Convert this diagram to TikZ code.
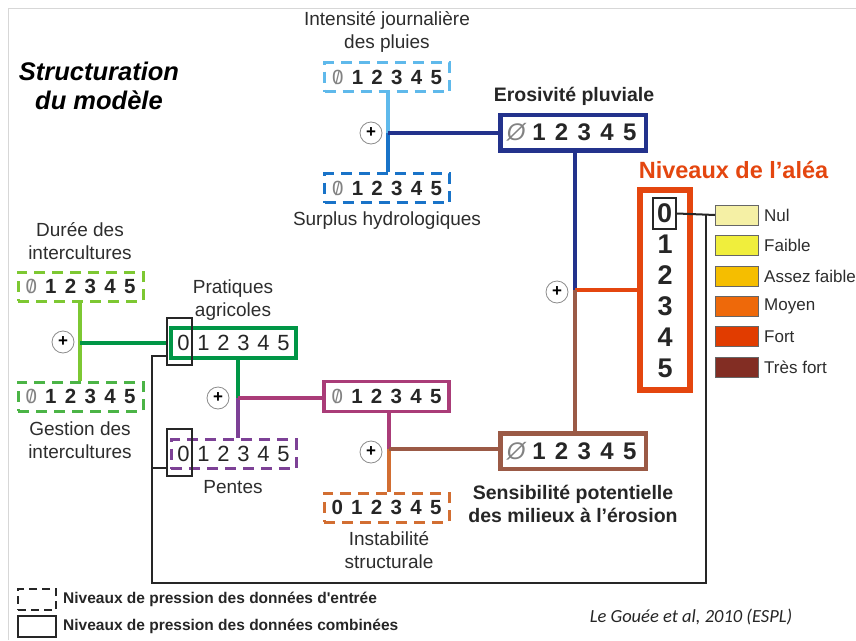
\documentclass[tikz,border=0pt]{standalone}
\usepackage{fontspec}
\setmainfont{Liberation Sans}
\newfontfamily\calib{Carlito}
\usepackage{graphicx}
\definecolor{lblue}{RGB}{95,185,235}
\definecolor{mblue}{RGB}{25,115,200}
\definecolor{navy}{RGB}{35,50,140}
\definecolor{lgreen}{RGB}{125,200,50}
\definecolor{mgreen}{RGB}{75,180,70}
\definecolor{dgreen}{RGB}{0,150,70}
\definecolor{purp}{RGB}{125,65,150}
\definecolor{mag}{RGB}{170,60,120}
\definecolor{brn}{RGB}{155,90,70}
\definecolor{orng}{RGB}{210,110,50}
\definecolor{nivred}{RGB}{228,70,15}
\definecolor{txt}{RGB}{45,45,45}
\definecolor{zgray}{RGB}{130,130,130}
\definecolor{framegray}{RGB}{215,215,215}
\definecolor{circgray}{RGB}{140,140,140}
\definecolor{sNul}{RGB}{245,240,165}
\definecolor{sFai}{RGB}{240,238,60}
\definecolor{sAss}{RGB}{245,190,0}
\definecolor{sMoy}{RGB}{238,105,10}
\definecolor{sFor}{RGB}{225,60,0}
\definecolor{sTre}{RGB}{130,45,35}
\newcommand\gz{{\mdseries\textcolor{zgray}{\ooalign{0\cr\hidewidth\scalebox{0.8}[0.9]{/}\hidewidth\cr}}}}
\newcommand\gzi{{\mdseries\itshape\textcolor{zgray}{Ø}}}
\newcommand\drow[2]{\makebox[#2]{#1}\makebox[#2]{1}\makebox[#2]{2}\makebox[#2]{3}\makebox[#2]{4}\makebox[#2]{5}}
\begin{document}
\begin{tikzpicture}[x=1pt,y=-1pt,
  lab/.style={text=txt,font=\fontsize{19}{22.5}\selectfont,align=center,inner sep=0pt},
  blab/.style={text=black!85,font=\fontsize{19.5}{23}\selectfont\bfseries,align=center,inner sep=0pt},
  inbox/.style={draw,line width=3pt,dash pattern=on 11pt off 7pt,minimum width=125pt,minimum height=29pt,inner sep=0pt,font=\fontsize{20.5}{20.5}\selectfont\bfseries,text=black!85},
  midbox/.style={draw,line width=3.5pt,minimum width=125pt,minimum height=30pt,inner sep=0pt,font=\fontsize{22}{22}\selectfont,text=black!85},
  bigbox/.style={draw,line width=4.5pt,minimum width=145.5pt,minimum height=35.5pt,inner sep=0pt,font=\fontsize{24}{24}\selectfont\bfseries,text=black!85},
  zbox/.style={draw=black!85,line width=2pt,minimum width=25pt,minimum height=47pt,inner sep=0pt},
  plus/.style={circle,draw=circgray,line width=0.8pt,fill=white,minimum size=22pt,inner sep=0pt,font=\fontsize{17}{17}\selectfont\bfseries},
  conn/.style={line width=3.5pt},
  swatch/.style={draw=black!60,line width=1pt,minimum width=43pt,minimum height=20pt,inner sep=0pt},
  swlab/.style={anchor=west,text=txt,font=\fontsize{17}{17}\selectfont,inner sep=0pt},
  nivdig/.style={font=\fontsize{27}{27}\selectfont\bfseries,text=black!85,inner sep=0pt},
  legtxt/.style={anchor=west,text=black!85,font=\fontsize{15.5}{15.5}\selectfont\bfseries,inner sep=0pt}
]
\useasboundingbox (0,0) rectangle (856,640);
\fill[white] (0,0) rectangle (856,640);
\draw[framegray,line width=1pt] (8,640) -- (8,8) -- (856,8);

% title
\node[font=\fontsize{25.5}{29}\selectfont\bfseries\itshape,align=center,inner sep=0pt] (title) at (99,86) {Structuration\\du modèle};

% labels
\node[lab] (tIntens) at (387,32) {Intensité journalière\\des pluies};
\node[lab] (tSurplus) at (387,221) {Surplus hydrologiques};
\node[blab] (tEros) at (574,96) {Erosivité pluviale};
\node[lab] (tDuree) at (80,241) {Durée des\\intercultures};
\node[lab] (tGestion) at (80,440) {Gestion des\\intercultures};
\node[lab] (tPrat) at (233,300) {Pratiques\\agricoles};
\node[lab] (tPentes) at (233,487) {Pentes};
\node[lab] (tInstab) at (389,550) {Instabilité\\structurale};
\node[blab] (tSens) at (573,504) {Sensibilité potentielle\\des milieux à l’érosion};
\node[text=nivred,font=\fontsize{23.5}{23.5}\selectfont\bfseries,inner sep=0pt] (tNiv) at (733.5,170) {Niveaux de l’aléa};

% input boxes
\node[inbox,draw=lblue] (intens) at (387,77) {\drow{\gz}{19.7pt}};
\node[inbox,draw=mblue] (surplus) at (387,188) {\drow{\gz}{19.7pt}};
\node[inbox,draw=lgreen] (duree) at (80.5,286.5) {\drow{\gz}{19.7pt}};
\node[inbox,draw=mgreen] (gestion) at (80.5,396.5) {\drow{\gz}{19.7pt}};
\node[inbox,draw=purp,font=\fontsize{22}{22}\selectfont] (pentes) at (233.5,454) {\drow{0}{20pt}};
\node[inbox,draw=orng] (instab) at (386.5,507.5) {\drow{0}{19.7pt}};

% combined boxes
\node[midbox,draw=dgreen] (pratiq) at (233.5,343) {\drow{0}{20pt}};
\node[midbox,draw=mag,font=\fontsize{20.5}{20.5}\selectfont\bfseries] (magbox) at (386.5,396.5) {\drow{\gz}{19.7pt}};
\node[bigbox,draw=navy] (eros) at (573,132.5) {\drow{\gzi}{22.7pt}};
\node[bigbox,draw=brn] (sens) at (573,451) {\drow{\gzi}{22.7pt}};

% niveaux
\node[draw=nivred,line width=6pt,minimum width=50pt,minimum height=200pt,inner sep=0pt] (niv) at (665,290) {};
\node[nivdig,draw=black!85,line width=2pt,minimum width=23pt,minimum height=31pt] (niv0) at (664.5,213.5) {0};
\foreach \i in {1,...,5}{
  \node[nivdig] (niv\i) at (665,213.5+31*\i) {\i};
}

% black zero boxes
\node[zbox] (prat0) at (179.5,341.5) {};
\node[zbox] (pent0) at (179.5,452.5) {};

% junctions
\coordinate (jA) at (388,133);
\coordinate (jB) at (575,290);
\coordinate (jC) at (80,343);
\coordinate (jD) at (238,398);
\coordinate (jE) at (389,449);
\coordinate (lp1) at (152,356);
\coordinate (lp2) at (152,583);
\coordinate (lp3) at (706,583);
\coordinate (lpb) at (152,468);

% connectors
\draw[conn,lblue] (intens.south -| jA) -- (jA);
\draw[conn,mblue] (jA) -- (surplus.north -| jA);
\draw[conn,navy] (jA) -- (jA -| eros.west);
\draw[conn,navy] (eros.south -| jB) -- (jB);
\draw[conn,nivred] (jB) -- (jB -| niv.west);
\draw[conn,brn] (jB) -- (sens.north -| jB);
\draw[conn,lgreen] (duree.south -| jC) -- (jC) -- (gestion.north -| jC);
\draw[conn,dgreen] (jC) -- (jC -| prat0.west);
\draw[conn,dgreen] (pratiq.south -| jD) -- (jD);
\draw[conn,purp] (jD) -- (pentes.north -| jD);
\draw[conn,mag] (jD) -- (jD -| magbox.west);
\draw[conn,mag] (magbox.south -| jE) -- (jE);
\draw[conn,orng] (jE) -- (instab.north -| jE);
\draw[conn,brn] (jE) -- (jE -| sens.west);

% black loop
\draw[black!85,line width=2pt] (lp1 -| prat0.west) -- (lp1) -- (lp2) -- (lp3) -- (lp3 |- niv0.east);
\draw[black!85,line width=2pt] (lpb) -- (lpb -| pent0.west);

% plus circles
\node[plus] (p1) at (371,133) {+};
\node[plus] (p2) at (557,292) {+};
\node[plus] (p3) at (63,342) {+};
\node[plus] (p4) at (218,398) {+};
\node[plus] (p5) at (371,452) {+};

% legend swatches
\node[swatch,fill=sNul] (sw1) at (737,215) {};
\node[swatch,fill=sFai] (sw2) at (737,245.5) {};
\node[swatch,fill=sAss] (sw3) at (737,276) {};
\node[swatch,fill=sMoy] (sw4) at (737,306.5) {};
\node[swatch,fill=sFor] (sw5) at (737,336.5) {};
\node[swatch,fill=sTre] (sw6) at (737,367.5) {};
\draw[black!85,line width=2pt] (niv0.east) -- (sw1.west);
\node[swlab] (l1) at (764,215) {Nul};
\node[swlab] (l2) at (764,245.5) {Faible};
\node[swlab] (l3) at (764,276) {Assez faible};
\node[swlab] (l4) at (764,306.5) {Moyen};
\node[swlab] (l5) at (764,336.5) {Fort};
\node[swlab] (l6) at (764,367.5) {Très fort};

% bottom legend
\node[draw=black!85,line width=2.5pt,dash pattern=on 8pt off 5pt,minimum width=38pt,minimum height=21pt,inner sep=0pt] (legd) at (37,599.5) {};
\node[draw=black!85,line width=2.5pt,minimum width=38pt,minimum height=21pt,inner sep=0pt] (legs) at (37,626.5) {};
\node[legtxt] (legdt) at (63,599) {Niveaux de pression des données d\textquotesingle entrée};
\node[legtxt] (legst) at (63,626) {Niveaux de pression des données combinées};
\node[text=black!85,font=\calib\fontsize{18.5}{18.5}\selectfont\itshape,inner sep=0pt] (cite) at (691,617) {Le Gouée et al, 2010 (ESPL)};
\end{tikzpicture}
\end{document}
